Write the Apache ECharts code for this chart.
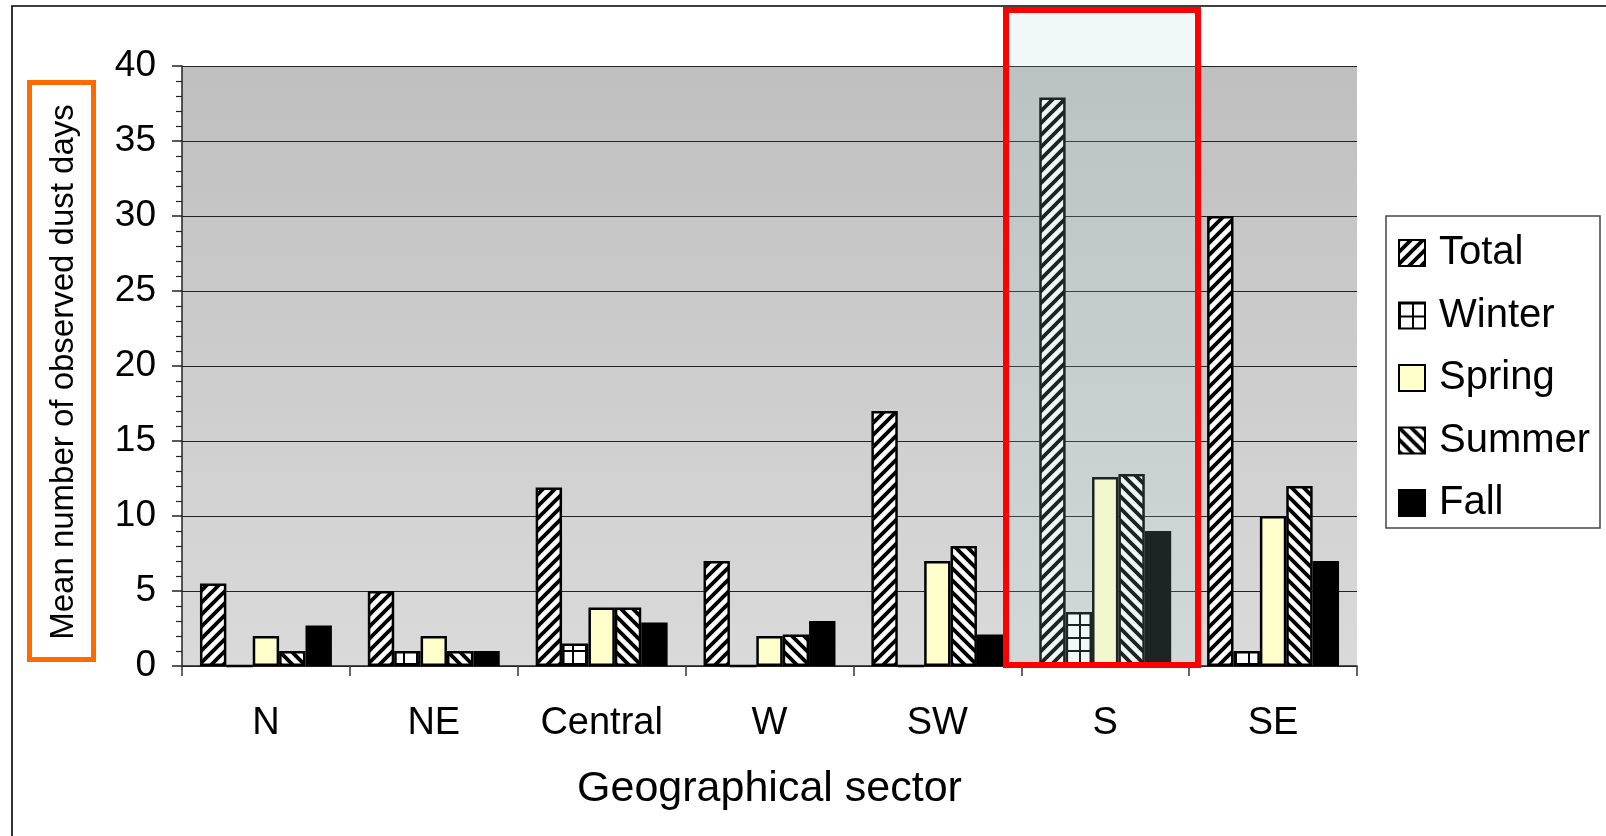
<!DOCTYPE html>
<html>
<head>
<meta charset="utf-8">
<script src="https://cdn.jsdelivr.net/npm/echarts@6/dist/echarts.min.js"></script>
<style>
  html, body { margin: 0; padding: 0; background: #fff; }
  #chart { width: 1606px; height: 836px; }
</style>
</head>
<body>
<div id="chart"></div>
<script>
// Mean number of observed dust days per geographical sector and season
const sectors = ['N', 'NE', 'Central', 'W', 'SW', 'S', 'SE'];
const seriesNames = ['Total', 'Winter', 'Spring', 'Summer', 'Fall'];
const total  = [5.5, 5.0, 11.9, 7.0, 17.0, 37.9, 30.0];
const winter = [0, 1.0, 1.5, 0, 0, 3.6, 1.0];
const spring = [2.0, 2.0, 3.9, 2.0, 7.0, 12.6, 10.0];
const summer = [1.0, 1.0, 3.9, 2.1, 8.0, 12.8, 12.0];
const fall   = [2.7, 1.0, 2.9, 3.0, 2.1, 9.0, 7.0];
const yMin = 0, yMax = 40, yStep = 5;

const FONT = '"Liberation Sans", Arial, sans-serif';

// Fill patterns for the bars
function hatch(forward) {
  const p = 12;
  const c = document.createElement('canvas');
  c.width = c.height = p;
  const g = c.getContext('2d');
  g.fillStyle = '#fff';
  g.fillRect(0, 0, p, p);
  g.strokeStyle = '#000';
  g.lineWidth = 3.8;
  g.beginPath();
  for (let k = -2; k <= 2; k++) {
    if (forward) { g.moveTo(k * p - p, 2 * p); g.lineTo(k * p + 2 * p, -p); }
    else { g.moveTo(k * p - p, -p); g.lineTo(k * p + 2 * p, 2 * p); }
  }
  g.stroke();
  return { image: c, repeat: 'repeat' };
}
function gridPattern() {
  const p = 13;
  const c = document.createElement('canvas');
  c.width = c.height = p;
  const g = c.getContext('2d');
  g.fillStyle = '#fff';
  g.fillRect(0, 0, p, p);
  g.fillStyle = '#000';
  g.fillRect(0, 0, p, 2);
  g.fillRect(0, 0, 2, p);
  return { image: c, repeat: 'repeat' };
}

const fills = [hatch(true), gridPattern(), '#ffffcc', hatch(false), '#000000'];
const values = [total, winter, spring, summer, fall];

const chart = echarts.init(document.getElementById('chart'), null, { renderer: 'canvas' });

const series = seriesNames.map((name, i) => ({
  name: name,
  type: 'bar',
  data: values[i],
  barGap: '0%',
  barCategoryGap: '21.4%',
  itemStyle: { color: fills[i], borderColor: '#000', borderWidth: 2.5 },
  emphasis: { disabled: true }
}));

chart.setOption({
  animation: false,
  textStyle: { fontFamily: FONT },
  grid: {
    left: 182, right: 249, top: 66, bottom: 170,
    show: true,
    borderWidth: 0,
    backgroundColor: new echarts.graphic.LinearGradient(0, 0, 0, 1, [
      { offset: 0, color: '#bfbfbf' },
      { offset: 1, color: '#dadada' }
    ])
  },
  legend: {
    orient: 'vertical',
    left: 1398, top: 233,
    padding: 0,
    itemWidth: 26, itemHeight: 26,
    itemGap: 22.5,
    icon: 'rect',
    selectedMode: false,
    textStyle: { fontSize: 40, lineHeight: 40, color: '#000', fontFamily: FONT, padding: [0, 0, 0, 9] },
    data: seriesNames
  },
  xAxis: {
    type: 'category',
    data: sectors,
    axisLine: { lineStyle: { color: '#222', width: 1.5 } },
    axisTick: { show: true, length: 10, interval: 0, lineStyle: { color: '#333', width: 1.5 } },
    axisLabel: { fontSize: 38, color: '#000', margin: 39, fontFamily: FONT },
    name: 'Geographical sector',
    nameLocation: 'middle',
    nameGap: 102,
    nameTextStyle: { fontSize: 43, color: '#000', fontFamily: FONT }
  },
  yAxis: {
    type: 'value',
    min: yMin, max: yMax, interval: yStep,
    axisLine: { show: true, lineStyle: { color: '#222', width: 1.5 } },
    axisTick: { show: true, length: 10, lineStyle: { color: '#222', width: 1.5 } },
    minorTick: { show: true, splitNumber: 5, length: 6, lineStyle: { color: '#222', width: 1.2 } },
    axisLabel: { fontSize: 37, color: '#000', margin: 26, fontFamily: FONT },
    splitLine: { show: true, lineStyle: { color: '#222', width: 1.2 } }
  },
  graphic: [
    // outer frame
    { type: 'rect', shape: { x: 12, y: 6, width: 1640, height: 880 }, silent: true, z: 0,
      style: { fill: null, stroke: '#000', lineWidth: 1.6 } },
    // legend frame
    { type: 'rect', shape: { x: 1386, y: 216, width: 214, height: 312 }, silent: true, z: -1,
      style: { fill: '#fff', stroke: '#444', lineWidth: 1.5 } },
    // y axis title with its orange frame
    { type: 'rect', shape: { x: 29.5, y: 82.5, width: 64, height: 577 }, silent: true, z: 10,
      style: { fill: null, stroke: '#ff6a00', lineWidth: 5 } },
    { type: 'text', x: 64, y: 372, rotation: Math.PI / 2, silent: true, z: 10,
      style: { text: 'Mean number of observed dust days', font: '33px ' + FONT, fill: '#000',
               textAlign: 'center', textVerticalAlign: 'middle' } },
    // highlighted S sector
    { type: 'rect', shape: { x: 1006, y: 10, width: 192, height: 655 }, silent: true, z: 100,
      style: { fill: 'rgba(170,215,215,0.17)', stroke: '#ff0000', lineWidth: 6 } }
  ],
  series: series
});
</script>
</body>
</html>
